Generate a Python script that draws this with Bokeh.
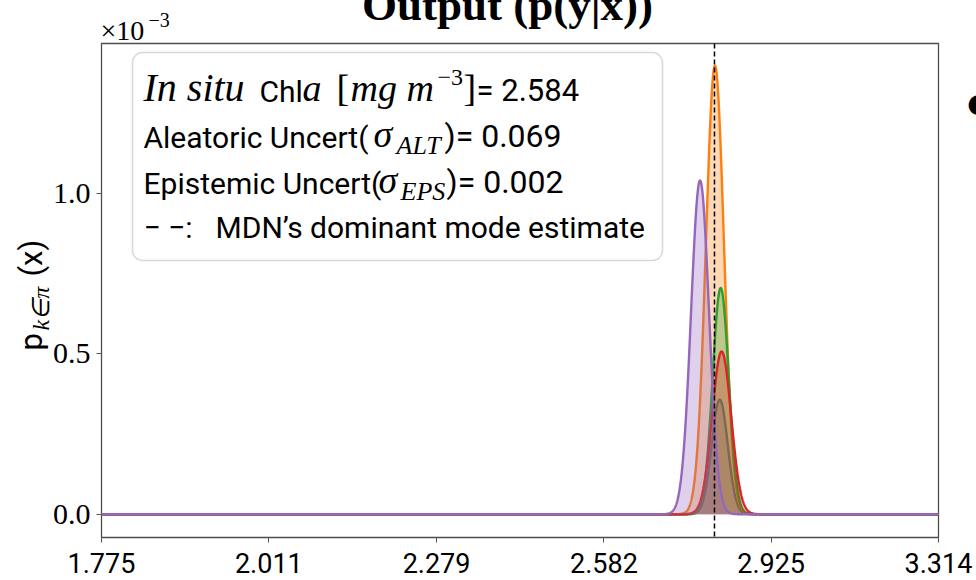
import numpy as np
from bokeh.plotting import figure
from bokeh.models import Range1d, FixedTicker, Span, BoxAnnotation
from bokeh.core.properties import value
from bokeh.embed import file_html
from bokeh.resources import INLINE

# ---------------- data ----------------
x_tick_labels = ["1.775", "2.011", "2.279", "2.582", "2.925", "3.314"]
y_ticks = [0.0, 0.5, 1.0]
y_tick_labels = ["0.0", "0.5", "1.0"]

component_colors = ["#1f77b4", "#ff7f0e", "#2ca02c", "#d62728", "#9467bd"]
component_means = [2.815, 2.805, 2.817, 2.819, 2.774]        # Chla, mg m^-3
component_sigmas = [0.0060, 0.0067, 0.0060, 0.0071, 0.0067]  # in ln space
component_peaks = [0.357, 1.398, 0.705, 0.507, 1.040]        # x 1e-3

mode_estimate = 2.804
in_situ_chla = "2.584"
aleatoric = "0.069"
epistemic = "0.002"

# ---------------- figure ----------------
X0, X1 = np.log(float(x_tick_labels[0])), np.log(float(x_tick_labels[-1]))
Y0, Y1 = -0.0725, 1.467
FL, FR, FT, FB = 101, 938, 43, 537   # frame edges in page pixels

p = figure(width=976, height=580, output_backend="svg", toolbar_location=None,
           x_range=Range1d(X0, X1), y_range=Range1d(Y0, Y1),
           min_border_left=FL, min_border_right=976 - FR,
           min_border_top=FT, min_border_bottom=580 - FB)
p.grid.visible = False
p.background_fill_color = "white"
p.border_fill_color = "white"
p.outline_line_color = "#4d4d4d"
p.outline_line_width = 1.3

SANS = "Roboto"
SERIF = "Liberation Serif"

xt = [float(np.log(float(s))) for s in x_tick_labels]
p.xaxis.ticker = FixedTicker(ticks=xt)
p.xaxis.major_label_overrides = {t: s for t, s in zip(xt, x_tick_labels)}
p.yaxis.ticker = FixedTicker(ticks=y_ticks)
p.yaxis.major_label_overrides = {t: s for t, s in zip(y_ticks, y_tick_labels)}
for ax in (p.xaxis, p.yaxis):
    ax.axis_line_color = None
    ax.major_tick_line_color = "#555555"
    ax.major_tick_out = 5
    ax.major_tick_in = 0
    ax.minor_tick_line_color = None
    ax.major_label_text_color = "black"
p.xaxis.major_label_text_font = SANS
p.xaxis.major_label_text_font_size = "27px"
p.xaxis.major_label_standoff = 10
p.yaxis.major_label_text_font = SERIF
p.yaxis.major_label_text_font_size = "30px"
p.yaxis.major_label_standoff = 6

# text box (under the texts)
p.add_layout(BoxAnnotation(left=132, right=662, top=52, bottom=260,
                           left_units="canvas", right_units="canvas",
                           top_units="canvas", bottom_units="canvas",
                           border_radius=10, fill_color="white", fill_alpha=0.85,
                           line_color="#808080", line_width=1.5, level="underlay"))

xg = np.linspace(X0, X1, 4000)
for c, m, s, h in zip(component_colors, component_means, component_sigmas, component_peaks):
    yg = h * np.exp(-0.5 * ((xg - np.log(m)) / s) ** 2)
    p.varea(x=xg, y1=np.zeros_like(xg), y2=yg, fill_color=c, fill_alpha=0.3)
    p.line(xg, yg, line_color=c, line_width=2.4)

p.add_layout(Span(location=float(np.log(mode_estimate)), dimension="height",
                  line_color="black", line_dash="5 3", line_width=1.5))


def dx(px):
    return X0 + (px - FL) / (FR - FL) * (X1 - X0)


def dy(py):
    return Y0 + (FB - py) / (FB - FT) * (Y1 - Y0)


K = 0.38  # baseline correction of the text glyph


def seg(text, px, py, font, size, style="normal", align="left",
        baseline="alphabetic", angle=0.0):
    if baseline == "alphabetic":
        if angle == 0.0:
            py = py - K * size
        else:
            px = px - K * size
    p.text(x=[dx(px)], y=[dy(py)], text=[text], text_font=value(font),
           text_font_size=value(f"{size}px"), text_font_style=value(style),
           text_align=value(align), text_baseline=value(baseline),
           angle=angle, text_color="black", level="annotation")


# line 1
seg("In situ", 143, 102, SERIF, 40, "italic")
seg("Chl", 259, 102, SANS, 30)
seg("a", 302, 102, SERIF, 38, "italic")
seg("[", 336, 102, SERIF, 38)
seg("mg m", 350, 102, SERIF, 38, "italic")
seg("\u22123", 437, 86, SERIF, 24)
seg("]", 463, 102, SERIF, 38)
seg("= " + in_situ_chla, 476, 102, SANS, 31)
# line 2
seg("Aleatoric Uncert(", 143, 148, SANS, 30)
seg("\u03c3", 373, 148, SERIF, 38, "italic")
seg("ALT", 396, 155, SERIF, 26, "italic")
seg(")= " + aleatoric, 444, 148, SANS, 32)
# line 3
seg("Epistemic Uncert(", 143, 194, SANS, 30)
seg("\u03c3", 378, 194, SERIF, 38, "italic")
seg("EPS", 400, 201, SERIF, 26, "italic")
seg(")= " + epistemic, 446, 194, SANS, 32)
# line 4
seg("\u2212 \u2212:", 143, 238, SANS, 30)
seg("MDN\u2019s dominant mode estimate", 215, 238, SANS, 30)

# title (clipped by the page top, as in the reference)
seg("Output (p(y|x))", 507, 22, SERIF, 45, "bold", align="center")

# axis scale factor
seg("\u00d710", 100, 41, SERIF, 28)
seg("\u22123", 148, 27, SERIF, 20)

# y axis label, rotated
seg("p", 43, 350, SANS, 31, angle=np.pi / 2)
seg("k\u2208\u03c0", 50, 330, SERIF, 24, "italic", angle=np.pi / 2)
seg("(x)", 43, 276, SANS, 31, angle=np.pi / 2)

# partially visible marker at the right edge
seg("\u25cf", 978, 102, "DejaVu Sans", 26, align="center", baseline="middle")

open("out.html", "w").write(file_html(p, INLINE, "plot"))
